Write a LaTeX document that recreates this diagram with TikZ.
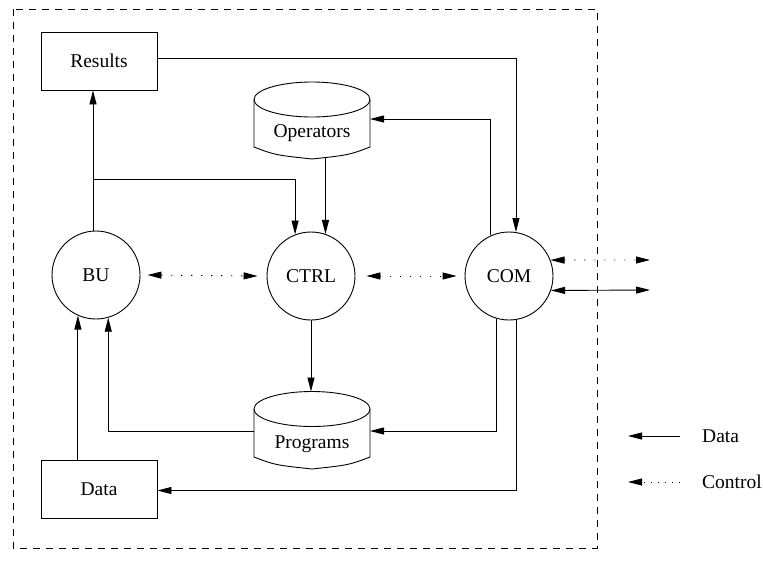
\documentclass[tikz,border=0pt]{standalone}
\usepackage{fontspec}
\setmainfont{Liberation Serif}
\usetikzlibrary{arrows.meta,calc}
\begin{document}
\begin{tikzpicture}[x=1pt,y=-1pt,
  every node/.style={font=\fontsize{19.5}{22}\selectfont},
  wire/.style={line width=0.9pt},
  box/.style={draw,line width=0.9pt,minimum width=116pt,minimum height=58pt,inner sep=0pt},
  unit/.style={draw,circle,line width=0.9pt,minimum size=88pt,inner sep=0pt},
  arr/.style={wire,-{Triangle[length=14pt,width=7pt]}},
  darr/.style={wire,{Triangle[length=14pt,width=7pt]}-{Triangle[length=14pt,width=7pt]}},
  ctl/.style={dash pattern=on 1.2pt off 8.8pt},
  lbl/.style={inner sep=0pt},
  frame/.style={line width=0.9pt,dash pattern=on 7pt off 6pt}
]
\useasboundingbox (0,0) rectangle (763,563);
% outer frame
\draw[frame] (13,9) rectangle (597,548);

% boxes and units
\node[box] (res) at (99,61) {Results};
\node[box] (data) at (99,489.5) {Data};
\node[unit] (bu) at (96,275) {BU};
\node[unit] (ctrl) at (311,276) {CTRL};
\node[unit] (com) at (509,276) {COM};

% Operators cylinder
\draw[wire] (312,99.5) ellipse [x radius=58pt, y radius=17.5pt];
\draw[wire] (254,99.5) -- (254,147) .. controls (275,155) .. (312,159)
  .. controls (349,155) .. (370,147) -- (370,99.5);
\node[lbl] (ops) at (312,133) {Operators};
\coordinate (opsR) at (370,119);
\coordinate (opsB) at (312,158);

% Programs cylinder
\draw[wire] (312,409) ellipse [x radius=58pt, y radius=17.5pt];
\draw[wire] (254,409) -- (254,457) .. controls (275,465) .. (312,469)
  .. controls (349,465) .. (370,457) -- (370,409);
\node[lbl] (prog) at (312,444) {Programs};
\coordinate (progT) at (312,391.5);
\coordinate (progR) at (370,431);
\coordinate (progL) at (254,431);

% connectors
\coordinate (j1) at (93,179);
\draw[arr] (j1 |- bu.north) -- (j1 |- res.south);
\draw[arr] (j1) -| (ctrl.111);
\draw[arr] (ctrl.71 |- opsB) -- (ctrl.71);
\draw[arr] ([yshift=3pt]res.east) -| (com.81);
\draw[arr] (com.114) |- (opsR);
\draw[arr] (ctrl.south) -- (ctrl.south |- progT);
\draw[arr] (com.253) |- (progR);
\draw[arr] (progL) -| (bu.286);
\draw[arr] (data.north -| bu.246) -- (bu.246);
\draw[arr] (com.279) |- ([yshift=-1pt]data.east);

% control links
\draw[darr,ctl] ([xshift=7pt]bu.east) -- ([xshift=-9pt]ctrl.west);
\draw[darr,ctl] ([xshift=11pt]ctrl.east) -- ([xshift=-8pt]com.west);
\coordinate (ext1) at (650,260);
\coordinate (ext2) at (650,290);
\draw[darr,ctl] (com.21) -- (ext1);
\draw[darr] (com.-19) -- (ext2);

% legend
\coordinate (lgA1) at (628,436);
\coordinate (lgB1) at (680,436);
\coordinate (lgA2) at (628,482);
\coordinate (lgB2) at (680,482);
\draw[arr] (lgB1) -- (lgA1);
\draw[arr,dash pattern=on 1.2pt off 5.8pt] (lgB2) -- (lgA2);
\node[lbl,anchor=west] (lgData) at (702,436) {Data};
\node[lbl,anchor=west] (lgCtl) at (702,482) {Control};
\end{tikzpicture}
\end{document}
